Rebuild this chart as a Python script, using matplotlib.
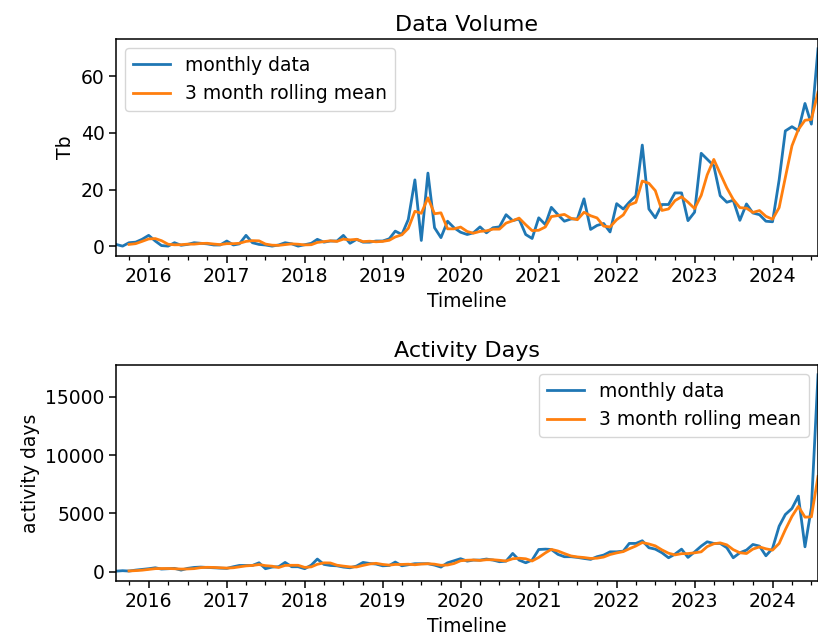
import numpy as np
import pandas as pd
import matplotlib
matplotlib.use("Agg")
import matplotlib.pyplot as plt
import matplotlib.dates as mdates

# monthly series, Aug 2015 .. Aug 2024
months = pd.date_range("2015-08-01", "2024-08-01", freq="MS")

volume_tb = [
    0.6, 0.0, 1.2, 1.4, 2.4, 3.8, 1.8, 0.2, 0.0, 1.2, 0.3, 0.6,
    1.2, 1.0, 0.8, 0.4, 0.4, 1.8, 0.4, 0.8, 3.8, 1.2, 0.6, 0.4,
    0.0, 0.4, 1.2, 0.8, 0.0, 0.5, 1.0, 2.4, 1.4, 1.8, 1.8, 3.8,
    1.0, 2.4, 1.4, 1.4, 1.8, 1.8, 2.6, 5.3, 4.1, 9.4, 23.4, 2.0,
    25.8, 6.5, 3.0, 8.8, 6.5, 4.9, 4.1, 4.7, 6.8, 4.7, 6.5, 6.8,
    11.1, 9.0, 9.6, 4.1, 2.7, 10.0, 7.6, 13.7, 11.1, 8.8, 9.6, 9.6,
    16.7, 5.9, 7.3, 8.0, 5.0, 15.0, 13.1, 15.5, 17.8, 35.7, 13.1, 10.0,
    14.7, 14.7, 18.8, 18.8, 9.0, 12.0, 32.8, 30.7, 28.4, 17.8, 15.5, 16.2,
    9.1, 14.9, 11.7, 11.1, 8.8, 8.6, 23.4, 40.7, 42.2, 40.8, 50.4, 43.1,
    69.7,
]

activity_days = [
    50, 90, 60, 140, 200, 260, 340, 230, 260, 290, 140, 290,
    370, 400, 370, 340, 310, 290, 430, 540, 540, 540, 770, 260,
    400, 430, 800, 430, 430, 260, 570, 1090, 630, 540, 510, 400,
    340, 490, 800, 710, 660, 510, 540, 830, 510, 600, 690, 690,
    690, 570, 400, 770, 940, 1120, 910, 1000, 1000, 1090, 1000, 860,
    910, 1570, 1000, 770, 1000, 1910, 1940, 1910, 1490, 1290, 1290, 1230,
    1140, 1060, 1290, 1430, 1710, 1710, 1770, 2430, 2430, 2660, 2060, 1940,
    1630, 1200, 1510, 1940, 1230, 1700, 2200, 2570, 2430, 2430, 2060, 1200,
    1630, 1860, 2340, 2200, 1370, 2000, 3910, 4910, 5430, 6490, 2140, 5500,
    16900,
]

plt.rcParams["font.size"] = 13.5
plt.rcParams["axes.titlesize"] = 16
plt.rcParams["axes.linewidth"] = 1.1
plt.rcParams["xtick.major.size"] = 4.7
plt.rcParams["ytick.major.size"] = 4.7
plt.rcParams["xtick.minor.size"] = 2.7
plt.rcParams["xtick.major.width"] = 1.1
plt.rcParams["ytick.major.width"] = 1.1
plt.rcParams["xtick.minor.width"] = 0.9

fig = plt.figure(figsize=(8.18, 6.39), dpi=100)
ax1 = fig.add_axes([0.1418, 0.5994, 0.8582, 0.3396])
ax2 = fig.add_axes([0.1418, 0.0908, 0.8582, 0.3380])


def draw(ax, values, title, ylabel, legend_loc):
    s = pd.Series(values, index=months)
    ax.plot(s.index, s.values, color="#1f77b4", lw=2, label="monthly data")
    ax.plot(s.index, s.rolling(3).mean().values, color="#ff7f0e", lw=2,
            label="3 month rolling mean")
    ax.set_xlim(months[0], months[-1])
    ax.xaxis.set_major_locator(mdates.YearLocator())
    ax.xaxis.set_major_formatter(mdates.DateFormatter("%Y"))
    ax.xaxis.set_minor_locator(mdates.MonthLocator(bymonth=[4, 7, 10]))
    ax.set_title(title)
    ax.set_xlabel("Timeline")
    ax.set_ylabel(ylabel)
    ax.legend(loc=legend_loc)


draw(ax1, volume_tb, "Data Volume", "Tb", "upper left")
ax1.set_yticks([0, 20, 40, 60])
draw(ax2, activity_days, "Activity Days", "activity days", "upper right")
ax2.set_yticks([0, 5000, 10000, 15000])

fig.savefig("out.png", dpi=100)
